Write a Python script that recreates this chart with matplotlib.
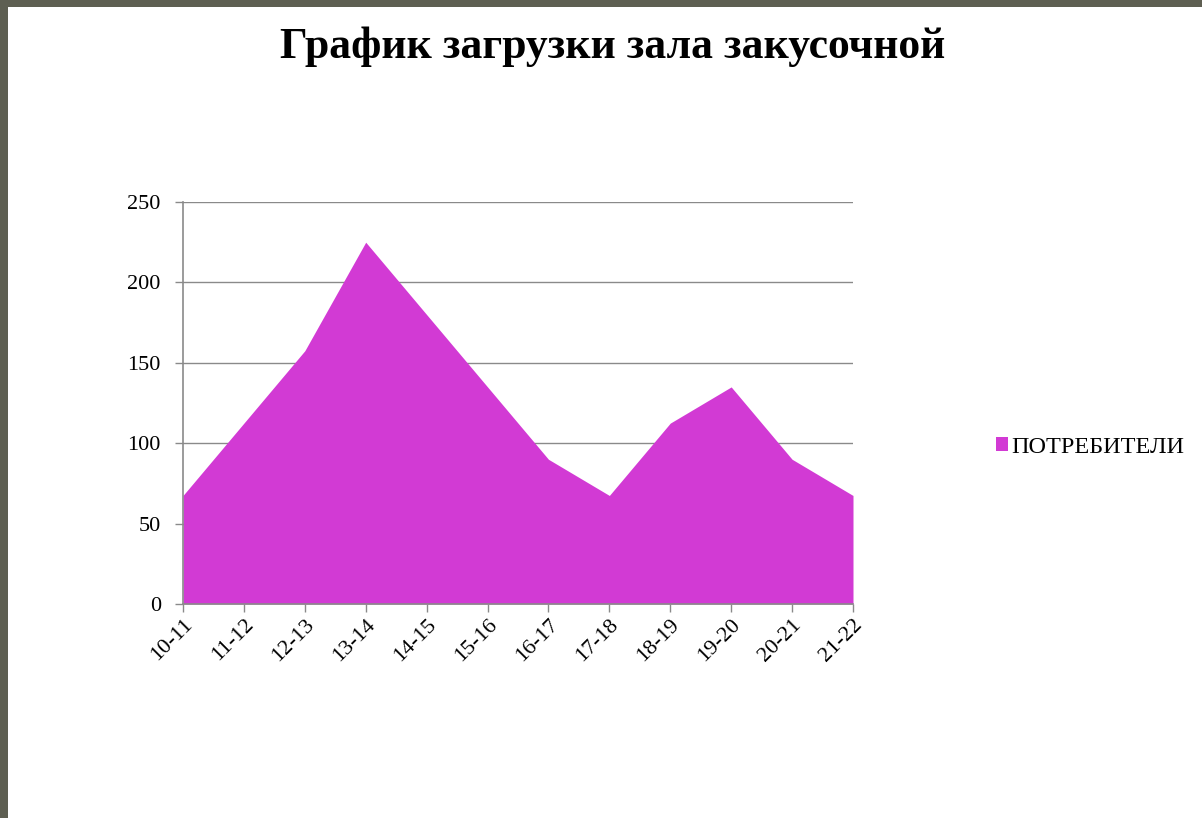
import matplotlib
matplotlib.use("Agg")
import matplotlib.pyplot as plt
from matplotlib.patches import Rectangle

categories = ["10-11", "11-12", "12-13", "13-14", "14-15", "15-16",
              "16-17", "17-18", "18-19", "19-20", "20-21", "21-22"]
consumers = [67.5, 112.5, 157.5, 225, 180, 135, 90, 67.5, 112.5, 135, 90, 67.5]
series_name = "ПОТРЕБИТЕЛИ"
title = "График загрузки зала закусочной"
yticks = [0, 50, 100, 150, 200, 250]

plt.rcParams['font.family'] = ['Liberation Serif', 'DejaVu Serif']

W, H = 1202, 818
fig = plt.figure(figsize=(W / 100, H / 100), dpi=100)
fig.patch.set_facecolor('#5e5f52')
fig.patches.append(Rectangle((8 / W, 0), 1 - 8 / W, 1 - 7 / H,
                             transform=fig.transFigure, facecolor='white',
                             edgecolor='none', zorder=-5))

ax = fig.add_axes([183 / W, 1 - 604 / H, 670 / W, 402 / H])
ax.set_zorder(1)
ax.set_facecolor('white')
x = list(range(len(categories)))
ax.fill_between(x, 0, consumers, color='#d23ad4', linewidth=0, zorder=2,
                label=series_name)
ax.set_xlim(0, len(categories) - 1)
ax.set_ylim(0, 250)
ax.set_yticks(yticks)
ax.set_yticklabels([str(v) for v in yticks], fontsize=16)
ax.set_xticks(x)
ax.set_xticklabels(categories, rotation=45, ha='right', rotation_mode='anchor',
                   fontsize=16)
ax.yaxis.grid(True, color='#8a8a8a', linewidth=1, zorder=1)
ax.set_axisbelow(True)
for s in ['top', 'right']:
    ax.spines[s].set_visible(False)
for s in ['left', 'bottom']:
    ax.spines[s].set_color('#8a8a8a')
    ax.spines[s].set_linewidth(1.2)
    ax.spines[s].set_zorder(3)
ax.tick_params(axis='x', color='#8a8a8a', length=6, width=1, pad=2)
ax.tick_params(axis='y', color='#8a8a8a', length=6, width=1, pad=10)

fig.text(613 / W, 1 - 47 / H, title, ha='center', va='center',
         fontsize=31.5, fontweight='bold')

fig.legend(loc='center left', bbox_to_anchor=(986 / W, 1 - 447 / H),
           frameon=False, fontsize=17.5, handlelength=0.5, handleheight=0.5,
           handletextpad=0.15, borderaxespad=0)

fig.savefig("out.png", dpi=100, facecolor=fig.get_facecolor())
